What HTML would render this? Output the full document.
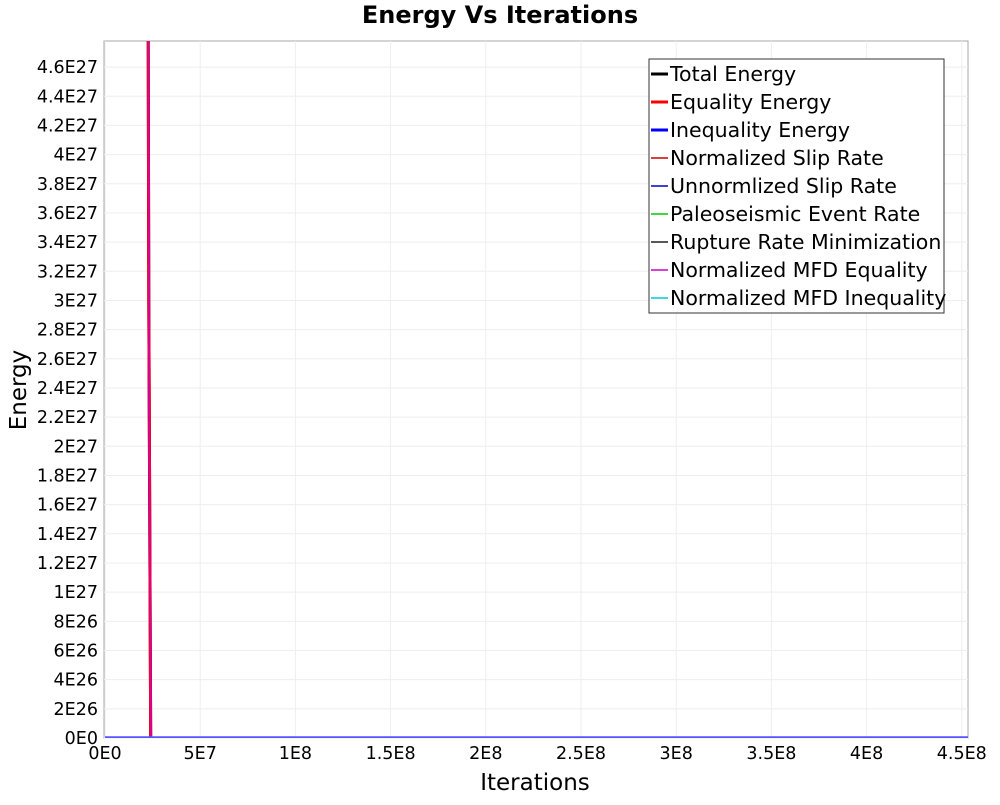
<!DOCTYPE html>
<html><head><meta charset="utf-8"><style>
body{margin:0;background:#fff;}
svg{font-family:"DejaVu Sans","Liberation Sans",sans-serif;}
</style></head><body>
<svg id="chart" width="1000" height="800">
<text x="500" y="23" text-anchor="middle" font-size="24" font-weight="bold">Energy Vs Iterations</text>
<rect x="104" y="41" width="864" height="697" fill="#fff" stroke="#aaa"/>
<g id="grid"></g><g id="yticks"></g><g id="xticks"></g>
<defs><clipPath id="clip"><rect x="104" y="41" width="864" height="697"/></clipPath></defs>
<g id="series" clip-path="url(#clip)"></g>
<text x="535" y="790" text-anchor="middle" font-size="23">Iterations</text>
<text transform="translate(26,390) rotate(-90)" text-anchor="middle" font-size="23">Energy</text>
<g id="legend"></g>
</svg>
<script>
const yTicks=[0,2e26,4e26,6e26,8e26,1e27,1.2e27,1.4e27,1.6e27,1.8e27,2e27,2.2e27,2.4e27,2.6e27,2.8e27,3e27,3.2e27,3.4e27,3.6e27,3.8e27,4e27,4.2e27,4.4e27,4.6e27];
const yTickLabels=["0E0","2E26","4E26","6E26","8E26","1E27","1.2E27","1.4E27","1.6E27","1.8E27","2E27","2.2E27","2.4E27","2.6E27","2.8E27","3E27","3.2E27","3.4E27","3.6E27","3.8E27","4E27","4.2E27","4.4E27","4.6E27"];
const xTicks=[0,5e7,1e8,1.5e8,2e8,2.5e8,3e8,3.5e8,4e8,4.5e8];
const xTickLabels=["0E0","5E7","1E8","1.5E8","2E8","2.5E8","3E8","3.5E8","4E8","4.5E8"];
const spikeIters=[2.2e7,2.3e7,2.4e7,4.6e8];
const totalEnergy=[9e27,3e27,0,0];
const equalityEnergy=[9e27,3e27,0,0];
const normSlip=[9e27,3e27,0,0];
const ruptureMin=[9e27,2.9e27,0,0];
const normMfdEq=[9e27,3.1e27,0,0];
const flatIters=[0,4.6e8];
const inequalityEnergy=[0,0];
const unnormSlip=[0,0];
const paleoRate=[0,0];
const normMfdIneq=[0,0];
const names=["Total Energy","Equality Energy","Inequality Energy","Normalized Slip Rate","Unnormlized Slip Rate","Paleoseismic Event Rate","Rupture Rate Minimization","Normalized MFD Equality","Normalized MFD Inequality"];
const colors=["#000","#f00","#00f","#c00","#00c","#0c0","#222","#c0c","#0cc"];
const widths=[3,3,3,1.5,1.5,1.5,1.5,1.5,1.5];
const NS="http://www.w3.org/2000/svg";
const x=v=>105+v/5e7*95.2;
const y=v=>738-v/2e26*29.17;
function mk(t,a,p){const e=document.createElementNS(NS,t);for(const k in a)e.setAttribute(k,a[k]);document.getElementById(p).appendChild(e);return e;}
yTicks.forEach((v,i)=>{
 const g=mk('line',{x1:104,x2:968,y1:y(v),y2:y(v),stroke:'#eee'},'grid');
 
 
 const t=mk('text',{x:98,y:y(v)+6,'text-anchor':'end','font-size':17.5},'yticks');t.textContent=yTickLabels[i];
 
 
});
xTicks.forEach((v,i)=>{
 const g=mk('line',{x1:x(v),x2:x(v),y1:41,y2:738,stroke:'#eee'},'grid');
 
 
 const t=mk('text',{x:x(v),y:759,'text-anchor':'middle','font-size':17.5},'xticks');t.textContent=xTickLabels[i];
 
 
});
function line(xs,ys,i,nm,col,w){
 const p=mk('polyline',{points:xs.map((v,j)=>x(v)+','+y(ys[j])).join(' '),fill:'none',stroke:col||colors[i],'stroke-width':w||widths[i]},'series');
 
 
}
line(spikeIters,ruptureMin,6,'rupture-rate-line');
line(spikeIters,totalEnergy,0,'total-energy-line');
line(spikeIters,normSlip,3,'normalized-slip-line');
line(spikeIters,equalityEnergy,1,'equality-energy-line');
line(spikeIters,normMfdEq,7,'mfd-equality-line');
line(flatIters,paleoRate,5,'paleoseismic-line');
line(flatIters,unnormSlip,4,'unnormalized-slip-line');
line(flatIters,normMfdIneq,8,'mfd-inequality-line');
line(flatIters,inequalityEnergy,2,'inequality-energy-line','#55f',3.5);
const lb=mk('rect',{x:649,y:59,width:295,height:254,fill:'#fff',stroke:'#333'},'legend');


names.forEach((n,i)=>{
 const yy=74+i*28;
 mk('line',{x1:651,x2:668,y1:yy,y2:yy,stroke:colors[i],'stroke-width':widths[i]},'legend');
 const t=mk('text',{x:670,y:yy+7,'font-size':20.5},'legend');t.textContent=n;
 
 
});
</script>
</body></html>
